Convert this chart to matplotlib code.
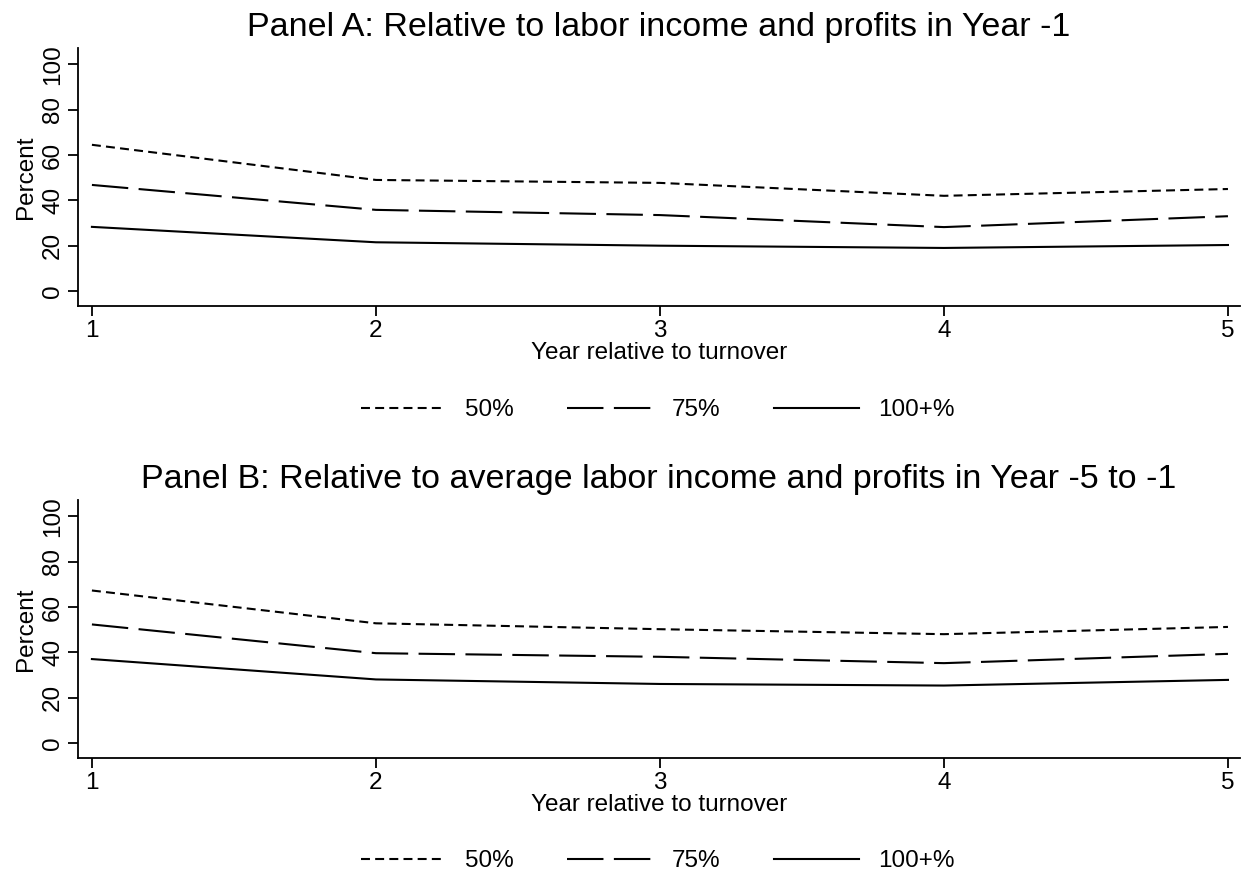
import numpy as np
import matplotlib.pyplot as plt

plt.rcParams['font.family'] = ['Liberation Sans', 'DejaVu Sans']

years = [1, 2, 3, 4, 5]
labels = ['50%', '75%', '100+%']

# Panel A: relative to labor income and profits in Year -1
a_50 = [64.5, 49.0, 47.7, 42.0, 45.0]
a_75 = [46.8, 35.8, 33.5, 28.2, 33.0]
a_100 = [28.3, 21.5, 20.0, 19.0, 20.3]

# Panel B: relative to average labor income and profits in Year -5 to -1
b_50 = [67.3, 52.8, 50.2, 48.0, 51.2]
b_75 = [52.3, 39.6, 38.0, 35.2, 39.3]
b_100 = [37.0, 28.0, 26.0, 25.3, 27.8]

titles = ['Panel A: Relative to labor income and profits in Year -1',
          'Panel B: Relative to average labor income and profits in Year -5 to -1']

dash_styles = [(0, (4.3, 2.5)), (0, (17.5, 5)), '-']

fig = plt.figure(figsize=(12.48, 8.76), dpi=100)
ax_a = fig.add_axes([0.0625, 0.6507, 0.931, 0.2945])
ax_b = fig.add_axes([0.0625, 0.135, 0.931, 0.294])

panels = [(ax_a, [a_50, a_75, a_100]),
          (ax_b, [b_50, b_75, b_100])]

for i, (ax, series) in enumerate(panels):
    handles = []
    for vals, ls, lab in zip(series, dash_styles, labels):
        h, = ax.plot(years, vals, color='black', lw=1.5, linestyle=ls, label=lab)
        handles.append(h)
    ax.set_xlim(0.951, 5.042)
    ax.set_ylim(-6.6, 107.2)
    ax.set_xticks(years)
    ax.set_yticks([0, 20, 40, 60, 80, 100])
    for s in ['top', 'right']:
        ax.spines[s].set_visible(False)
    for s in ['left', 'bottom']:
        ax.spines[s].set_linewidth(1.3)
    ax.tick_params(axis='both', direction='out', length=7, width=1.3, labelsize=17.5, pad=3)
    for t in ax.get_yticklabels():
        t.set_rotation(90)
        t.set_va('center')
    ax.set_ylabel('Percent', fontsize=17.5, labelpad=4)
    ax.set_xlabel('Year relative to turnover', fontsize=17.5, labelpad=0)
    ax.set_title(titles[i], fontsize=24.5, pad=9)
    leg_y = 0.5315 if i == 0 else 0.017
    fig.legend(handles=handles, loc='center', bbox_to_anchor=(0.527, leg_y),
               ncol=3, frameon=False, fontsize=17.5, handlelength=3.5,
               handletextpad=0.8, columnspacing=2.2)

plt.savefig('out.png', dpi=100)
